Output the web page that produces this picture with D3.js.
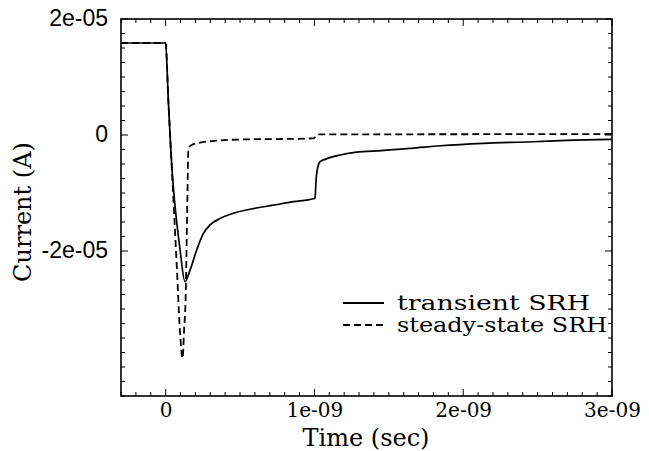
<!DOCTYPE html>
<html><head><meta charset="utf-8">
<script src="https://cdn.jsdelivr.net/npm/d3@7"></script>
<style>html,body{margin:0;padding:0;background:#fff;}svg{display:block;}</style>
</head><body><svg id="c" width="649" height="451"></svg>
<script>
// Time in ns, current in microamps
const transientTime = [-0.3, 0.0, 0.018, 0.036, 0.097, 0.130, 0.164, 0.209, 0.253, 0.298, 0.366, 0.455, 0.567, 0.724, 0.858, 0.993, 1.004, 1.011, 1.026, 1.038, 1.071, 1.172, 1.284, 1.45, 1.65, 1.85, 2.135, 2.471, 2.696, 3.0];
const transientCurrent = [15.86, 15.86, 6.0, -3.1, -19.8, -25.3, -23.3, -19.8, -17.0, -15.5, -14.4, -13.5, -12.8, -12.1, -11.5, -11.0, -10.9, -7.8, -5.2, -4.6, -4.2, -3.45, -2.95, -2.7, -2.3, -1.85, -1.43, -1.16, -0.91, -0.74];
const steadyTime = [-0.3, 0.0, 0.018, 0.048, 0.075, 0.097, 0.114, 0.124, 0.134, 0.146, 0.153, 0.175, 0.231, 0.343, 0.567, 0.791, 0.993, 1.026, 1.239, 3.0];
const steadyCurrent = [15.86, 15.86, 6.0, -8.9, -22.7, -34.1, -38.5, -33.6, -28.4, -11.2, -2.3, -1.72, -1.33, -0.98, -0.74, -0.69, -0.57, 0.12, 0.12, 0.17];
const xTicks = [0, 1, 2, 3];
const xTickLabels = ["0", "1e-09", "2e-09", "3e-09"];
const yTicks = [20, 0, -20];
const yTickLabels = ["2e-05", "0", "-2e-05"];
const seriesNames = ["transient SRH", "steady-state SRH"];

const svg = d3.select("#c");
const L = 121, R = 612, T = 19, B = 396;
const x = d3.scaleLinear().domain([-0.3, 3.0]).range([L, R]);
const y = d3.scaleLinear().domain([-45, 20]).range([B, T]);

const serif = "'DejaVu Serif', serif";
const sans = "'Liberation Sans', Arial, sans-serif";

// minor and major ticks on all four sides, pointing inward
const xMinor = d3.range(-3, 31).map(d => d / 10);
const yMinor = d3.range(-18, 9).map(d => d * 2.5);
const g = svg.append("g").attr("stroke", "#000").attr("stroke-width", 1);
xMinor.forEach(v => {
  const major = xTicks.some(t => Math.abs(t - v) < 1e-6);
  const len = major ? 7 : 4;
  g.append("line").attr("x1", x(v)).attr("x2", x(v)).attr("y1", B).attr("y2", B - len);
  g.append("line").attr("x1", x(v)).attr("x2", x(v)).attr("y1", T).attr("y2", T + len);
});
yMinor.forEach(v => {
  const major = yTicks.some(t => Math.abs(t - v) < 1e-6);
  const len = major ? 7 : 4;
  g.append("line").attr("y1", y(v)).attr("y2", y(v)).attr("x1", L).attr("x2", L + len);
  g.append("line").attr("y1", y(v)).attr("y2", y(v)).attr("x1", R).attr("x2", R - len);
});

// axes labels through d3 axes
const xAxis = d3.axisBottom(x).tickValues(xTicks).tickSize(0).tickPadding(0)
  .tickFormat((d, i) => xTickLabels[i]);
const xa = svg.append("g").attr("transform", `translate(0,${B})`).call(xAxis);
xa.select(".domain").remove();
xa.selectAll("text").attr("font-family", serif).attr("font-size", 20).attr("fill", "#000")
  .attr("dy", null).attr("y", 21);

const yAxis = d3.axisLeft(y).tickValues(yTicks).tickSize(0).tickPadding(13)
  .tickFormat((d, i) => yTickLabels[i]);
const ya = svg.append("g").attr("transform", `translate(${L},0)`).call(yAxis);
ya.select(".domain").remove();
ya.selectAll("text").attr("font-family", sans).attr("font-size", 23).attr("fill", "#000")
  .attr("dy", "0.3em");

// frame
svg.append("rect").attr("x", L).attr("y", T).attr("width", R - L).attr("height", B - T)
  .attr("fill", "none").attr("stroke", "#000").attr("stroke-width", 1.6);

// data lines
const line = d3.line().x(d => x(d[0])).y(d => y(d[1])).curve(d3.curveMonotoneX);
const steadyData = steadyTime.map((t, i) => [t, steadyCurrent[i]]);
const transData = transientTime.map((t, i) => [t, transientCurrent[i]]);
svg.append("path").attr("d", line(steadyData)).attr("fill", "none").attr("stroke", "#000")
  .attr("stroke-width", 1.8).attr("stroke-dasharray", "7,4");
svg.append("path").attr("d", line(transData)).attr("fill", "none").attr("stroke", "#000")
  .attr("stroke-width", 1.7);

// titles
svg.append("text").attr("x", 366).attr("y", 446).attr("text-anchor", "middle")
  .attr("font-family", serif).attr("font-size", 24).attr("fill", "#000").text("Time (sec)");
svg.append("text").attr("transform", "translate(31,212) rotate(-90)").attr("text-anchor", "middle")
  .attr("font-family", serif).attr("font-size", 24).attr("fill", "#000").text("Current (A)");

// legend
const legendWidths = [193, 210];
const leg = svg.append("g");
[0, 1].forEach(i => {
  const ly = 303 + i * 22;
  leg.append("line").attr("x1", 343).attr("x2", 384).attr("y1", ly).attr("y2", ly)
    .attr("stroke", "#000").attr("stroke-width", 1.8)
    .attr("stroke-dasharray", i === 1 ? "7,4" : null);
  leg.append("text").attr("x", 397).attr("y", ly + 7).attr("font-family", serif)
    .attr("font-size", 20).attr("fill", "#000")
    .attr("textLength", legendWidths[i]).attr("lengthAdjust", "spacingAndGlyphs")
    .text(seriesNames[i]);
});
</script></body></html>
